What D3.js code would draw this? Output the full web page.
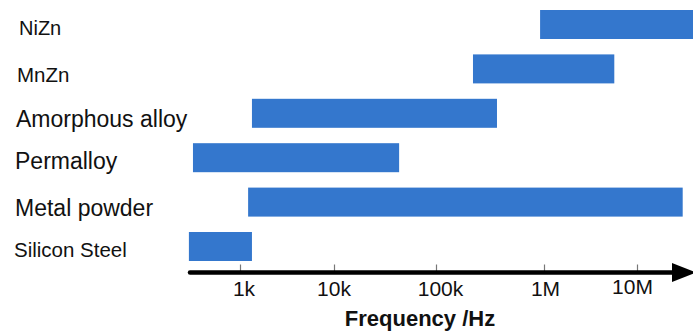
<!DOCTYPE html>
<html>
<head>
<meta charset="utf-8">
<script src="https://cdn.jsdelivr.net/npm/d3@7"></script>
<style>
  html, body { margin: 0; padding: 0; background: #fff; }
  svg { display: block; font-family: "Liberation Sans", Arial, sans-serif; }
</style>
</head>
<body>
<div id="chart"></div>
<script>
// ---- data ----
const materials = ["NiZn", "MnZn", "Amorphous alloy", "Permalloy", "Metal powder", "Silicon Steel"];
const freqMin = [9.2e5, 2.2e5, 1.34e3, 316, 1.22e3, 286];   // Hz
const freqMax = [4.0e7, 5.7e6, 3.67e5, 4.35e4, 3.1e7, 1.34e3]; // Hz
const tickValues = [1e3, 1e4, 1e5, 1e6, 1e7];
const tickLabels = ["1k", "10k", "100k", "1M", "10M"];
const axisTitle = "Frequency /Hz";

// ---- presentation-only styles ----
const labelStyle = [
  { x: 19, size: 20, dy: 10.5 },
  { x: 17, size: 20.5, dy: 13.1 },
  { x: 16, size: 23, dy: 13.7 },
  { x: 15, size: 23, dy: 11.3 },
  { x: 15, size: 23, dy: 13.9 },
  { x: 14, size: 20.5, dy: 10.5 }
];
const tickLabelShift = [
  { dx: 3.5, dy: 0 },
  { dx: -0.5, dy: 0 },
  { dx: 4, dy: 0 },
  { dx: 1, dy: 0 },
  { dx: -5, dy: -2 }
];

const W = 693, H = 333;
const barColor = "#3477cd";
const axisY = 272.5;

const svg = d3.select("#chart").append("svg")
  .attr("width", W).attr("height", H);

const x = d3.scaleLog()
  .domain(tickValues)
  .range([240, 334, 436, 544, 637]);

const y = d3.scalePoint()
  .domain(materials)
  .range([24.5, 246.5]);

const barH = 29;

const rows = materials.map((m, i) => ({ name: m, lo: freqMin[i], hi: freqMax[i], st: labelStyle[i] }));

// bars
svg.append("g").selectAll("rect")
  .data(rows).join("rect")
  .attr("x", d => x(d.lo))
  .attr("y", d => y(d.name) - barH / 2)
  .attr("width", d => x(d.hi) - x(d.lo))
  .attr("height", barH)
  .attr("fill", barColor);

// labels
svg.append("g").selectAll("text")
  .data(rows).join("text")
  .attr("x", d => d.st.x)
  .attr("y", d => y(d.name) + d.st.dy)
  .attr("font-size", d => d.st.size + "px")
  .attr("fill", "#111")
  .text(d => d.name);

// axis ticks + labels
const axis = d3.axisBottom(x)
  .tickValues(tickValues)
  .tickFormat((d, i) => tickLabels[i])
  .tickSizeInner(-8)
  .tickSizeOuter(0)
  .tickPadding(9);

const gAxis = svg.append("g")
  .attr("transform", `translate(0,${axisY})`)
  .call(axis);
gAxis.select(".domain").remove();
gAxis.selectAll(".tick line").attr("stroke", "#777").attr("stroke-width", 1.2);
gAxis.selectAll(".tick text")
  .attr("font-size", "21px")
  .attr("font-family", "Liberation Sans, Arial, sans-serif")
  .attr("fill", "#111")
  .attr("transform", (d, i) => `translate(${tickLabelShift[i].dx},${tickLabelShift[i].dy})`);

// thick axis line with arrow
svg.append("line")
  .attr("x1", 190).attr("x2", 674)
  .attr("y1", axisY).attr("y2", axisY)
  .attr("stroke", "#000").attr("stroke-width", 4.5)
  .attr("stroke-linecap", "round");
svg.append("path")
  .attr("d", `M672,${axisY - 9.5} L696,${axisY} L672,${axisY + 9.5} Z`)
  .attr("fill", "#000");

// axis title
svg.append("text")
  .attr("x", 420).attr("y", 326)
  .attr("text-anchor", "middle")
  .attr("font-size", "22px")
  .attr("font-weight", "bold")
  .attr("fill", "#111")
  .text(axisTitle);
</script>
</body>
</html>
